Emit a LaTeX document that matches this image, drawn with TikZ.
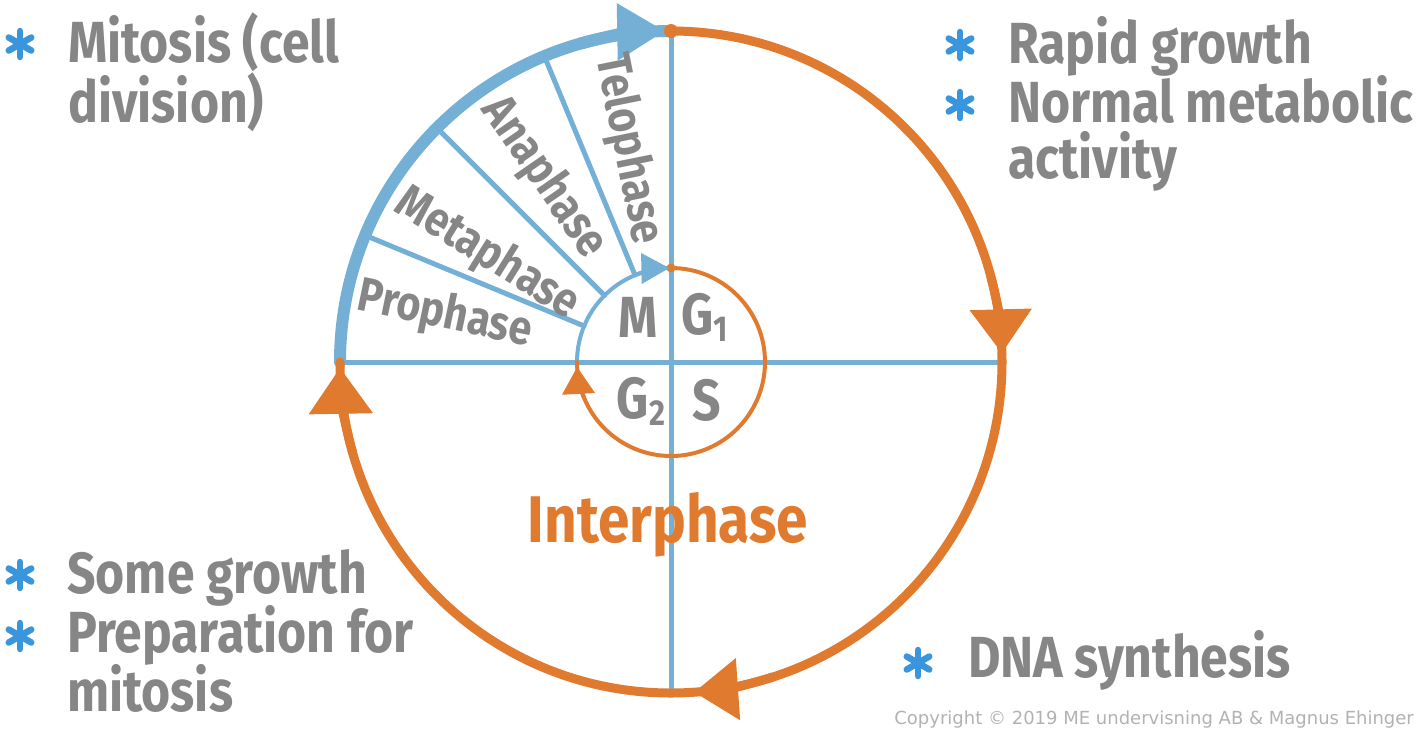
\documentclass[tikz,border=0pt]{standalone}
\usepackage{fontspec}
\usetikzlibrary{arrows.meta,calc}
\newfontfamily\hand{Fira Sans}[FakeStretch=0.86]
\newfontfamily\copyfont{DejaVu Sans}
\definecolor{cblue}{RGB}{116,176,214}
\definecolor{corange}{RGB}{224,122,46}
\definecolor{cgray}{RGB}{134,134,134}
\definecolor{cstar}{RGB}{58,150,220}
\definecolor{ccopy}{RGB}{178,178,178}
\begin{document}
\begin{tikzpicture}[x=1pt,y=-1pt,
  txt/.style={font=\hand\bfseries\fontsize{58}{60}\selectfont, text=cgray, anchor=base west, inner sep=0pt},
  phase/.style={font=\hand\bfseries\fontsize{48}{48}\selectfont, text=cgray, inner sep=0pt},
  quad/.style={font=\hand\bfseries\fontsize{58}{58}\selectfont, text=cgray, inner sep=0pt},
  bline/.style={cblue, line width=5pt, line cap=round},
  bulletstar/.pic={\foreach \a in {90,30,-30} \draw[cstar, line width=6.5pt, line cap=round] (\a:13) -- (\a+180:13);}
]
\useasboundingbox (0,0) rectangle (1420,732);

\begin{scope}[shift={(671,362)}, yscale=-1]
  \def\R{331}
  \def\r{94}
  \coordinate (C) at (0,0);
  \coordinate (L) at (180:\R);
  \coordinate (Rt) at (0:\R);
  \coordinate (T) at (90:\R);
  \coordinate (B) at (-90:\R);
  \coordinate (iL) at (180:\r);
  \coordinate (iT) at (90:\r);
  % cross
  \draw[bline] (L) -- (Rt);
  \draw[bline] (T) -- (B);
  % spokes
  \foreach \a in {112.5,135,157.5} {
    \coordinate (s1) at (\a:\r);
    \coordinate (s2) at (\a:\R);
    \draw[bline] (s1) -- (s2);
  }
  % outer arcs
  \draw[cblue, line width=12pt, line cap=round] (L) arc[start angle=180, end angle=90, radius=\R];
  \draw[corange, line width=9pt, line cap=round] (T) arc[start angle=90, end angle=-180, radius=\R];
  \draw[cblue, line width=12pt, -{Triangle[length=48pt,width=54pt]}] (106:\R) arc[start angle=106, end angle=91, radius=\R];
  \draw[corange, line width=9pt, -{Triangle[length=44pt,width=60pt]}] (15:\R) arc[start angle=15, end angle=1.5, radius=\R];
  \draw[corange, line width=9pt, -{Triangle[length=44pt,width=60pt]}] (-72:\R) arc[start angle=-72, end angle=-86, radius=\R];
  \draw[corange, line width=9pt, -{Triangle[length=46pt,width=62pt]}] (-164:\R) arc[start angle=-164, end angle=-179, radius=\R];
  % inner arcs
  \draw[cblue, line width=4pt, line cap=round] (iL) arc[start angle=180, end angle=90, radius=\r];
  \draw[corange, line width=4pt, line cap=round] (iT) arc[start angle=90, end angle=-180, radius=\r];
  \fill[corange] (iT) circle (4.5pt);
  \fill[corange] (T) circle (7pt);
  \draw[cblue, line width=4pt, -{Triangle[length=28pt,width=30pt]}] (112:\r) arc[start angle=112, end angle=91, radius=\r];
  \draw[corange, line width=4pt, -{Triangle[length=27pt,width=32pt]}] (-158:\r) arc[start angle=-158, end angle=-177, radius=\r];
  % phase labels
  \node[phase, rotate=-11.7] (pro) at (168.3:231) {Prophase};
  \node[phase, rotate=-32] (meta) at (149.6:213) {Metaphase};
  \node[phase, rotate=-55.4] (ana) at (124.6:224) {Anaphase};
  \node[phase, rotate=-78.6] (telo) at (101.4:217) {Telophase};
\end{scope}

% quadrant labels
\node[quad] (qM) at (638,317) {M};
\node[quad] (qG1) at (705,317) {G\raisebox{-7pt}{\fontsize{36}{36}\selectfont 1}};
\node[quad] (qG2) at (641,401) {G\raisebox{-7pt}{\fontsize{36}{36}\selectfont 2}};
\node[quad] (qS) at (707,400) {S};

\node[font=\hand\bfseries\fontsize{66}{66}\selectfont, text=corange, anchor=base, inner sep=0pt] (inter) at (668,542) {Interphase};

% bullets
\pic at (20,44) {bulletstar};
\node[txt] (t1) at (68,62) {Mitosis (cell};
\node[txt] (t2) at (68,122) {division)};

\pic at (960,45) {bulletstar};
\pic at (960,105) {bulletstar};
\node[txt] (t3) at (1008,63) {Rapid growth};
\node[txt] (t4) at (1008,122) {Normal metabolic};
\node[txt] (t5) at (1008,178) {activity};

\pic at (20,575) {bulletstar};
\pic at (20,636) {bulletstar};
\node[txt] (t6) at (67,593) {Some growth};
\node[txt] (t7) at (67,652) {Preparation for};
\node[txt] (t8) at (67,711) {mitosis};

\pic at (918,663) {bulletstar};
\node[txt] (t9) at (968,677) {DNA synthesis};

\node[font=\copyfont\fontsize{18}{18}\selectfont, text=ccopy, anchor=base east, inner sep=0pt] (copy) at (1414,724) {Copyright © 2019 ME undervisning AB \& Magnus Ehinger};
\end{tikzpicture}
\end{document}
